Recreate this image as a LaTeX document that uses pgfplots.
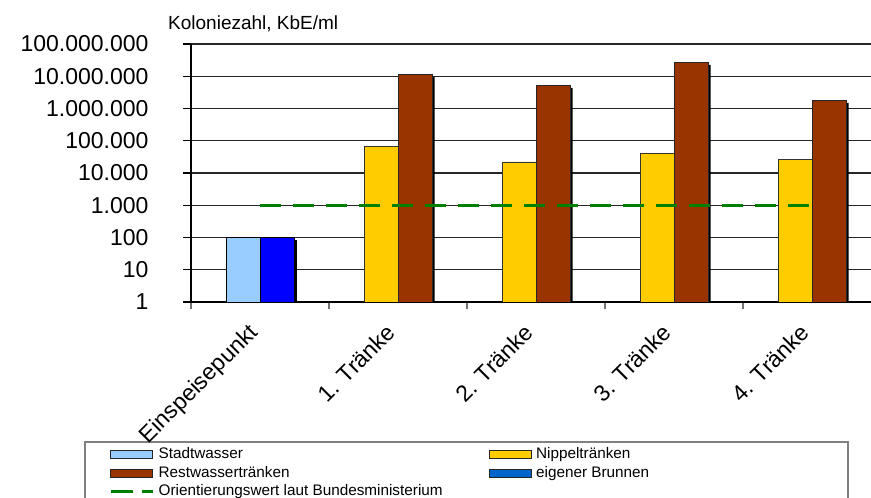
\documentclass[border=0pt]{standalone}
\usepackage{fontspec}
\setmainfont{Liberation Sans}
\usepackage{pgfplots}
\pgfplotsset{compat=1.18}
\definecolor{lblue}{HTML}{99CCFF}
\definecolor{dblue}{HTML}{0000FF}
\definecolor{legblue}{HTML}{0066CC}
\definecolor{yel}{HTML}{FFCC00}
\definecolor{brn}{HTML}{993300}
\definecolor{grn}{HTML}{008000}
\tikzset{sh/.style={preaction={fill=black, draw=none, transform canvas={shift={(2.5pt,-2.5pt)}}}}}
\makeatletter
\tikzset{nopre/.code={\let\tikz@preactions\pgfutil@empty}}
\makeatother
\newcommand{\legbar}[1]{\draw[nopre,fill=#1,draw=black!85,line width=0.9pt] (0pt,-4pt) rectangle (42pt,4pt);}
\begin{document}
\begin{tikzpicture}[x=1pt,y=1pt]
\useasboundingbox (0,0) rectangle (871,498);
\draw[black!50, line width=1.6pt] (85,-10) rectangle (848,56);
\node[anchor=base west, inner sep=0pt, font=\fontsize{19}{22}\selectfont] at (168,468) {Koloniezahl, KbE/ml};
\begin{axis}[
  at={(191pt,196pt)}, anchor=south west,
  scale only axis, width=680pt, height=258pt,
  ymode=log, ymin=1, ymax=1e8,
  xmin=-0.5, xmax=4.4275,
  ybar, bar width=34pt,
  axis x line*=bottom, axis y line*=left,
  axis line style={-, black, line width=1.3pt},
  xtick={0,1,2,3,4},
  xticklabels={Einspeisepunkt, 1. Tränke, 2. Tränke, 3. Tränke, 4. Tränke},
  minor xtick={-0.5,0.5,1.5,2.5,3.5},
  xminorticks=true, yminorticks=false,
  major x tick style={draw=none},
  minor x tick style={black!55, line width=1.3pt},
  major y tick style={black, line width=1.2pt},
  tick align=outside,
  major tick length=8pt, minor tick length=7pt,
  ytick={1,10,100,1000,10000,100000,1000000,10000000,100000000},
  yticklabels={1,10,100,1.000,10.000,100.000,1.000.000,10.000.000,100.000.000},
  ymajorgrids, grid style={black!85, line width=1.1pt},
  yticklabel style={font=\fontsize{23}{26}\selectfont, anchor=east, xshift=-31pt},
  xticklabel style={font=\fontsize{23}{26}\selectfont, xshift=-13pt, yshift=-12pt, rotate=45, anchor=north east, inner sep=0pt},
  legend columns=2,
  legend cell align=left,
  legend style={draw=none, fill=none, at={(axis description cs:-0.1206,-0.562)}, anchor=north west,
    inner sep=0pt, row sep=3.5pt,
    nodes={inner sep=0pt, text height=11.5pt, text depth=3.5pt, font=\fontsize{15.3}{18}\selectfont},
    /tikz/every odd column/.append style={column sep=4.5pt},
    /tikz/every even column/.append style={column sep=46pt}},
]
\addplot[sh, fill=lblue, draw=black, line width=0.8pt, bar shift=-17pt,
  legend image code/.code={\legbar{lblue}}] coordinates {(0,100)};
\addlegendentry{Stadtwasser}
\addplot[sh, fill=yel, draw=black!80, line width=0.8pt, bar shift=-17pt,
  legend image code/.code={\legbar{yel}}] coordinates {(1,66000) (2,22000) (3,40000) (4,26000)};
\addlegendentry{Nippeltränken}
\addplot[sh, fill=brn, draw=black!85, line width=0.8pt, bar shift=17pt,
  legend image code/.code={\legbar{brn}}] coordinates {(1,11200000) (2,5200000) (3,27000000) (4,1800000)};
\addlegendentry{Restwassertränken}
\addplot[sh, fill=dblue, draw=black, line width=0.8pt, bar shift=17pt,
  legend image code/.code={\legbar{legblue}}] coordinates {(0,100)};
\addlegendentry{eigener Brunnen}
\addplot[sharp plot, grn, line width=3pt, dash pattern=on 21pt off 12pt,
  legend image code/.code={\draw[grn, line width=3pt, dash pattern=on 22pt off 9pt] (0pt,0pt) -- (42pt,0pt);}]
  coordinates {(0,1000) (4,1000)};
\addlegendentry{Orientierungswert laut Bundesministerium}
\end{axis}
\end{tikzpicture}
\end{document}
